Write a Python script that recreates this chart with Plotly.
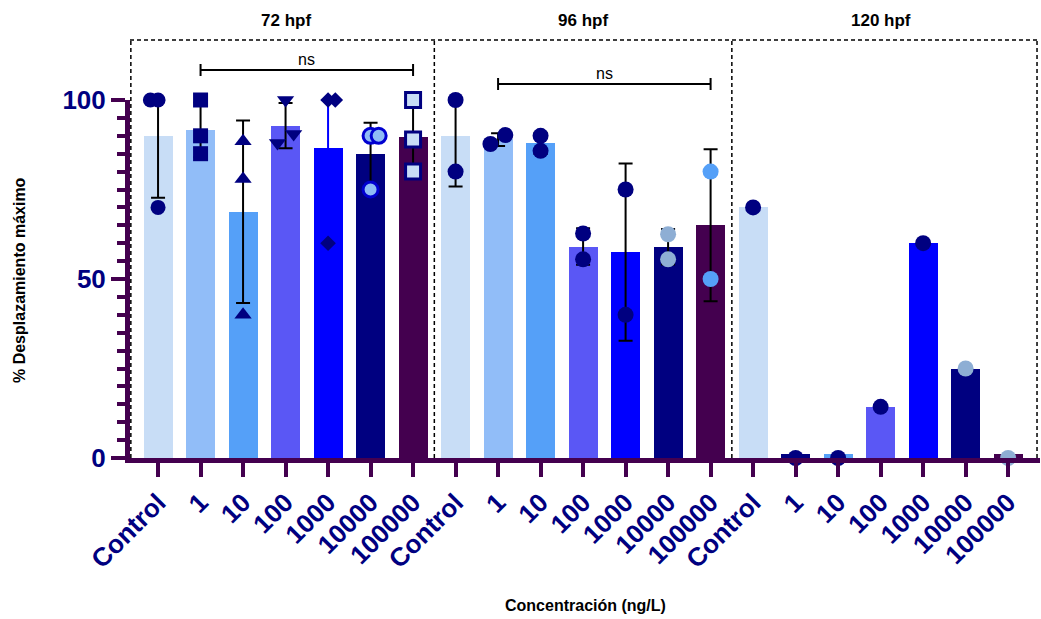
import numpy as np
import plotly.graph_objects as go

# ---------------- data ----------------
groups = ["72 hpf", "96 hpf", "120 hpf"]
concs = ["Control", "1", "10", "100", "1000", "10000", "100000"]

bars_72 = [90, 91.7, 68.8, 92.7, 86.7, 85, 89.7]
bars_96 = [90, 89, 88, 59, 57.5, 59, 65]
bars_120 = [70, 1, 1, 14.3, 60, 25, 1]

points_72 = [[100, 100, 70], [100, 90, 85], [88.5, 77.9, 40], [100, 88, 90.5],
             [100, 100, 60], [90, 90, 75], [100, 89, 80]]
points_96 = [[100, 80], [87.7, 90.2], [90, 85.8], [62.7, 55.5], [75, 40],
             [62.5, 55.5], [80, 50]]
points_120 = [[70], [0], [0], [14.3], [60], [25], [0]]

# ---------------- styles ----------------
jitter_72 = [[-0.18, 0, 0], [0, 0, 0], [0, 0, 0], [0, -0.19, 0.19],
             [0, 0.17, 0], [0, 0.19, 0], [0, 0, 0]]
jitter_96 = [[0, 0], [-0.18, 0.17], [0, 0], [0, 0], [0, 0], [0, 0], [0, 0]]
jitter_120 = [[0]] * 7

bar_colors = ["#c8ddf6", "#91bdf8", "#55a0f8", "#5a57f5", "#0000ff", "#000080", "#44004f"]
axis_color = "#44004f"
navy = "#000080"
FONT = "Liberation Sans, Arial, sans-serif"
tick_font = dict(family=FONT, size=26, color=navy, weight="bold")

sym_72 = ["circle", "square", "triangle-up", "triangle-down", "diamond", "circle", "square"]
size_72 = [15, 15, 15, 15, 12, 15, 15]
fill_72 = [navy, navy, navy, navy, navy, "#8fbcf5", "#c8ddf6"]
edge_72 = [navy, navy, navy, navy, navy, "#0000d0", navy]
edgew_72 = [0, 0, 0, 0, 0, 3, 3]
fill_96 = [navy, navy, navy, navy, navy, "#8eaed4", "#55a0f8"]
fill_120 = [navy, navy, navy, navy, navy, "#8eaed4", "#8eaed4"]
err_colors_72 = ["black", "black", "black", "black", "#0000ff", "black", "black"]

fig = go.Figure()

all_bars = [bars_72, bars_96, bars_120]
all_points = [points_72, points_96, points_120]
all_jit = [jitter_72, jitter_96, jitter_120]

# bars
xs, ys, cols = [], [], []
for g in range(3):
    for c in range(7):
        xs.append(g * 7 + c)
        ys.append(all_bars[g][c])
        col = bar_colors[c]
        if g == 2 and c == 1:
            col = navy
        cols.append(col)
fig.add_trace(go.Bar(x=xs, y=ys, width=0.68, marker=dict(color=cols, line=dict(width=0)),
                     hoverinfo="skip"))

# error bars (mean ± SD of points, clipped at the axis top)
for g in range(3):
    for c in range(7):
        pts = np.array(all_points[g][c], dtype=float)
        if len(pts) < 2:
            continue
        m = pts.mean()
        sd = pts.std(ddof=1)
        up = min(m + sd, 100) - m
        dn = sd
        ecol = err_colors_72[c] if g == 0 else "black"
        fig.add_trace(go.Scatter(
            x=[g * 7 + c], y=[m], mode="markers", marker=dict(size=0.1, color="rgba(0,0,0,0)"),
            error_y=dict(type="data", symmetric=False, array=[up], arrayminus=[dn],
                         color=ecol, thickness=2, width=7),
            hoverinfo="skip", cliponaxis=False))

# points
for g in range(3):
    for c in range(7):
        pts = all_points[g][c]
        jit = all_jit[g][c]
        px = [g * 7 + c + jit[i] for i in range(len(pts))]
        if g == 0:
            mk = dict(symbol=sym_72[c], size=size_72[c], color=fill_72[c],
                      line=dict(color=edge_72[c], width=edgew_72[c]))
        elif g == 1:
            mk = dict(symbol="circle", size=16, color=fill_96[c], line=dict(width=0))
        else:
            mk = dict(symbol="circle", size=16, color=fill_120[c], line=dict(width=0))
        fig.add_trace(go.Scatter(x=px, y=pts, mode="markers", marker=mk,
                                 cliponaxis=False, hoverinfo="skip"))

# ---------------- layout ----------------
L, R, T, B = 130, 1, 100, 161
W, H = 1041, 619
plot_h = H - T - B
plot_w = W - L - R
xr = [-0.66, 20.75]


def py(pix):
    return (H - B - pix) / plot_h


def pxp(pix):
    return (pix - L) / plot_w


shapes = []
dash = "4px,3px"
top = py(40)
# dashed group boxes
shapes.append(dict(type="line", xref="paper", yref="paper", x0=0, x1=1, y0=top, y1=top,
                   line=dict(color="black", width=1.5, dash=dash)))
for xv in [-0.64, 6.5, 13.5, 20.68]:
    shapes.append(dict(type="line", xref="x", yref="paper", x0=xv, x1=xv, y0=0, y1=top,
                       line=dict(color="black", width=1.5, dash=dash)))

# ns brackets
annotations = []
for (x0, x1, ypix) in [(1, 6, 70), (8, 13, 84)]:
    yb = py(ypix)
    cap = 6 / plot_h
    shapes.append(dict(type="line", xref="x", yref="paper", x0=x0, x1=x1, y0=yb, y1=yb,
                       line=dict(color="black", width=2)))
    for xv in (x0, x1):
        shapes.append(dict(type="line", xref="x", yref="paper", x0=xv, x1=xv,
                           y0=yb - cap, y1=yb + cap, line=dict(color="black", width=2)))
    annotations.append(dict(text="ns", x=(x0 + x1) / 2, xref="x", xanchor="center",
                            y=yb, yref="paper", yanchor="bottom", showarrow=False,
                            font=dict(family=FONT, size=16, color="black")))

for g, name in enumerate(groups):
    annotations.append(dict(text=name, x=g * 7 + 3, xref="x", xanchor="center",
                            y=py(20), yref="paper", yanchor="middle", showarrow=False,
                            font=dict(family=FONT, size=17, color="black", weight="bold")))

annotations.append(dict(text="% Desplazamiento máximo", x=pxp(19), xref="paper",
                        xanchor="center", y=py(280), yref="paper", yanchor="middle",
                        textangle=-90, showarrow=False,
                        font=dict(family=FONT, size=16, color="black", weight="bold")))
annotations.append(dict(text="Concentración (ng/L)", x=pxp(585), xref="paper",
                        xanchor="center", y=py(605), yref="paper", yanchor="middle",
                        showarrow=False,
                        font=dict(family=FONT, size=16, color="black", weight="bold")))

fig.update_layout(
    width=W, height=H,
    margin=dict(l=L, r=R, t=T, b=B, pad=0, autoexpand=False),
    plot_bgcolor="white", paper_bgcolor="white",
    showlegend=False, bargap=0,
    shapes=shapes, annotations=annotations,
    xaxis=dict(range=xr, tickmode="array", tickvals=list(range(21)), ticktext=concs * 3,
               tickangle=-45, tickfont=tick_font, ticks="outside", ticklen=14, tickwidth=4,
               tickcolor=axis_color, showline=True, linewidth=5, linecolor=axis_color,
               showgrid=False, zeroline=False, ticklabelstandoff=0, automargin=False),
    yaxis=dict(range=[0, 100], tickmode="array", tickvals=[0, 50, 100], tickfont=tick_font,
               ticks="outside", ticklen=14, tickwidth=4, tickcolor=axis_color,
               showline=True, linewidth=5, linecolor=axis_color, showgrid=False,
               zeroline=False, automargin=False,
               minor=dict(tickmode="array", tickvals=[v for v in range(5, 100, 5) if v != 50],
                          ticks="outside", ticklen=8, tickwidth=4, tickcolor=axis_color,
                          showgrid=False)),
)

fig.write_html("out.html", config={"displayModeBar": False},
               post_script="document.body.style.margin='0';")
